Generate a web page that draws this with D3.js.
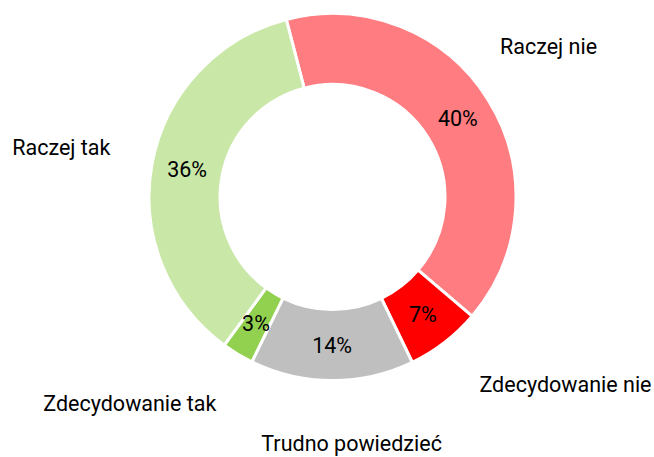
<!DOCTYPE html>
<html>
<head>
<meta charset="utf-8">
<script src="https://cdn.jsdelivr.net/npm/d3@7"></script>
<style>
  html, body { margin: 0; padding: 0; background: #ffffff; }
  svg { display: block; }
  text { font-family: Roboto, "Noto Sans", sans-serif; fill: #000; }
</style>
</head>
<body>
<svg id="chart" width="654" height="457"></svg>
<script>
// ---- data ----
const categories = ["Raczej nie", "Zdecydowanie nie", "Trudno powiedzieć", "Zdecydowanie tak", "Raczej tak"];
const values = [40.3, 6.6, 14.4, 2.8, 35.9];
const colors = ["#FF7C80", "#FF0000", "#BFBFBF", "#92D050", "#C9E7A7"];

// ---- layout ----
const W = 654, H = 457;
const cx = 332.5, cy = 197;
const outerR = 183.5, innerR = 112.5;
const startDeg = -14.6;
const labelR = 230;
const fontPx = 21.5;
// small layout nudges for the outside category labels (px)
const labelNudgeX = [-20, 40, 20, -39, 3];
const labelNudgeY = [-23, -3, 5, 0, -4];

const svg = d3.select("#chart");
const g = svg.append("g").attr("transform", `translate(${cx},${cy})`);

const pie = d3.pie().sort(null).value(d => d.value)
  .startAngle(startDeg * Math.PI / 180)
  .endAngle((startDeg + 360) * Math.PI / 180);
const data = categories.map((c, i) => ({ name: c, value: values[i], color: colors[i], i }));
const arcs = pie(data);

const arc = d3.arc().innerRadius(innerR).outerRadius(outerR);
const midArc = d3.arc().innerRadius((innerR + outerR) / 2).outerRadius((innerR + outerR) / 2);

g.selectAll("path.slice").data(arcs).enter().append("path")
  .attr("class", "slice")
  .attr("d", arc)
  .attr("fill", d => d.data.color)
  .attr("stroke", "#ffffff")
  .attr("stroke-width", 3)
  .attr("stroke-linejoin", "miter");

const total = d3.sum(values);
g.selectAll("text.pct").data(arcs).enter().append("text")
  .attr("class", "pct")
  .attr("x", d => midArc.centroid(d)[0])
  .attr("y", d => midArc.centroid(d)[1])
  .attr("dy", "0.35em")
  .attr("text-anchor", "middle")
  .style("font-size", fontPx + "px")
  .text(d => Math.round(d.data.value / total * 100) + "%");

// outside category labels
const labels = g.selectAll("text.cat").data(arcs).enter().append("text")
  .attr("class", "cat")
  .attr("text-anchor", "middle")
  .attr("dy", "0.35em")
  .style("font-size", fontPx + "px")
  .text(d => d.data.name);

labels.each(function(d) {
  const bb = this.getBBox();
  const a = (d.startAngle + d.endAngle) / 2;
  const s = Math.sin(a), c = -Math.cos(a);
  const px = labelR * s, py = labelR * c;
  const x = px + s * bb.width / 2 + labelNudgeX[d.data.i];
  const y = py + c * 11 + labelNudgeY[d.data.i];
  d3.select(this).attr("x", x).attr("y", y);
});
</script>
</body>
</html>
